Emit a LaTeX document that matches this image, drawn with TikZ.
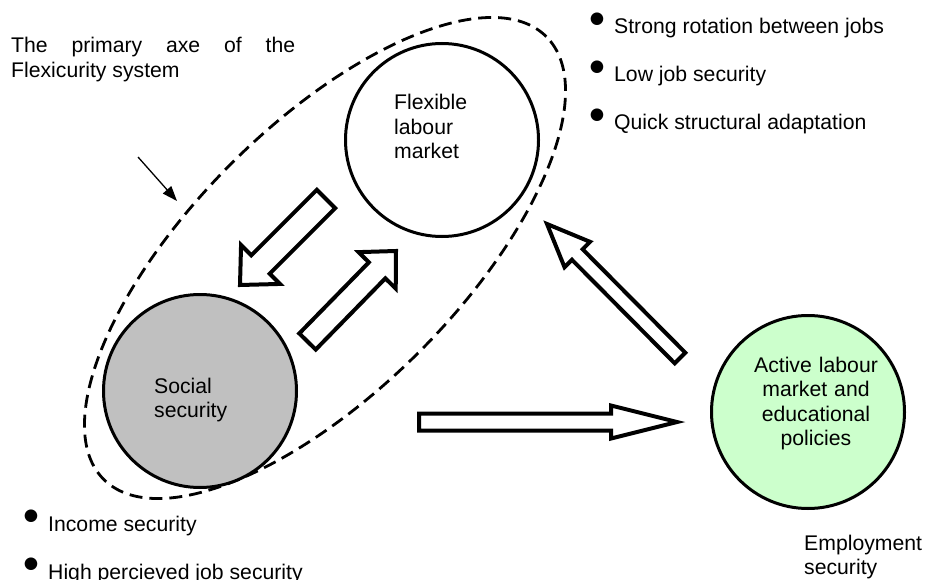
\documentclass[tikz,border=0pt]{standalone}
\usepackage{fontspec}
\setmainfont{Liberation Sans}
\newfontfamily\dotfont{DejaVu Sans}
\usetikzlibrary{shapes.geometric,arrows.meta,calc,positioning}
\definecolor{socialgrey}{HTML}{C0C0C0}
\definecolor{activegreen}{HTML}{CCFFCC}
% raised bullet in front of a list item
\newcommand{\bul}{\llap{\raisebox{10.2pt}{\dotfont\fontsize{16.5}{16.5}\selectfont ●}\hspace{10pt}}}
% hollow block arrow: tail, tip, shaft half width, head half width, head length
\newcommand{\blockarrow}[5]{%
    \coordinate (#1-#2-base) at ($(#2)!#5!(#1)$);
    \draw[fat] ($(#1)!#3!90:(#2)$) -- ($(#1-#2-base)!#3!90:(#2)$) -- ($(#1-#2-base)!#4!90:(#2)$)
        -- (#2) -- ($(#1-#2-base)!#4!-90:(#2)$) -- ($(#1-#2-base)!#3!-90:(#2)$) -- ($(#1)!#3!-90:(#2)$) -- cycle;}

\begin{document}
\begin{tikzpicture}[x=1pt, y=-1pt,
    txt/.style = {font=\fontsize{21.2}{24.5}\selectfont, inner sep=0pt},
    hub/.style = {draw, circle, line width=3pt, inner sep=0pt, minimum size=193pt},
    fat/.style = {draw, line width=4pt, line join=miter, fill=white},
    pointer/.style = {line width=1.3pt, -{Triangle[length=15pt, width=11pt]}}]
        \useasboundingbox (0,0) rectangle (926,580);

        % The primary axe (dashed ellipse)
        \node[draw, ellipse, dashed, dash pattern=on 13pt off 7pt, line width=2.8pt,
              inner sep=0pt, minimum width=626pt, minimum height=266pt, rotate=45] (axis) at (325,258) {};

        % Drawing the three pillars
        \node[hub, fill=white] (flex) at (442,140) {};
        \node[hub, fill=socialgrey] (social) at (200,391) {};
        \node[hub, fill=activegreen] (active) at (808,412) {};

        % Texts inside the pillars
        \node[txt, text width=100pt, align=left, anchor=base west] (flexText) at ([shift={(-48,-30)}]flex.center) {Flexible\\labour\\market};
        \node[txt, text width=100pt, align=left, anchor=base west] (socialText) at ([shift={(-46,2)}]social.center) {Social\\security};
        \node[txt, text width=150pt, align=center, anchor=base] (activeText) at ([shift={(8,-40)}]active.center) {Active labour\\market and\\educational\\policies};

        % Ends of the block arrows
        \coordinate (fsTail) at (326,199);
        \coordinate (fsTip) at (240,285);
        \coordinate (sfTail) at (307.5,341.5);
        \coordinate (sfTip) at (396,251);
        \coordinate (saTail) at (419,422);
        \coordinate (saTip) at (677,422);
        \coordinate (afTail) at (680,358);
        \coordinate (afTip) at (547,224);

        % Drawing the block arrows
        \blockarrow{fsTail}{fsTip}{13pt}{27.5pt}{29pt}
        \blockarrow{sfTail}{sfTip}{11.5pt}{26pt}{27pt}
        \blockarrow{saTail}{saTip}{8.5pt}{16.5pt}{66pt}
        \blockarrow{afTail}{afTip}{7.5pt}{18pt}{43pt}

        % Caption of the axe and its pointer
        \node[txt, text width=284pt, align=justify, anchor=base west] (axisText) at (11,53) {The primary axe of the\linebreak Flexicurity system};
        \coordinate (pointerTail) at (138,157);
        \coordinate (pointerTip) at (177,201);
        \draw[pointer] (pointerTail) -- (pointerTip);

        % Bullet lists
        \foreach \txt [count=\i] in {Strong rotation between jobs, Low job security, Quick structural adaptation}{
            \pgfmathsetmacro{\yPos}{34 + 48*(\i-1)}
            \node[txt, anchor=base west] (flexItem-\i) at (614, \yPos) {\bul\txt};
          }
        \foreach \txt [count=\i] in {Income security, High percieved job security}{
            \pgfmathsetmacro{\yPos}{531 + 48*(\i-1)}
            \node[txt, anchor=base west] (socialItem-\i) at (48, \yPos) {\bul\txt};
          }

        \node[txt, text width=130pt, align=left, anchor=base west] (activeNote) at (804,550) {Employment\\security};
      \end{tikzpicture}
\end{document}
